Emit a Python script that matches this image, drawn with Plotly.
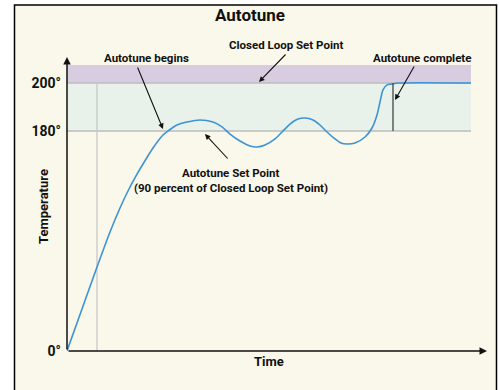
import plotly.graph_objects as go

# time units along the x axis, temperatures in degrees
TIME = [0, 15, 30, 43, 53, 61, 69, 76, 86, 96, 101, 110, 120, 133, 146, 155, 163,
        173, 183, 190, 198, 208, 215, 223, 231, 238, 246, 253, 260, 268, 274, 280,
        288, 298, 305, 310, 313, 316, 320, 325, 333, 404]
TEMP = [0, 34.4, 68.7, 97.4, 117.0, 130.9, 143.2, 153.0, 166.1, 176.7, 180.0, 182.5,
        183.75, 184.6, 183.75, 181.7, 177.5, 171.8, 167.7, 166.9, 168.5, 173.5, 179.2,
        182.9, 185.0, 185.4, 184.6, 182.5, 179.2, 173.5, 170.2, 169.4, 170.2, 175.1,
        181.25, 186.7, 192.1, 197.1, 199.2, 199.6, 200, 200]

TICK_TEMPS = [0, 180, 200]
TICK_TEXT = ["0°", "180°", "200°"]
SET_POINT = 200
AUTOTUNE_SET_POINT = 180
BAND_TOP = 207.5
AUTOTUNE_START = 30
AUTOTUNE_END = 326
BAND_END = 404

FONT = "Roboto, Liberation Sans, sans-serif"
CREAM = "#faf8ea"
GREEN = "#e9f2ea"
PURPLE = "#d8cde0"
GRID = "#bdbdbd"
BLUE = "#3d93d5"


def scale(t):
    # broken axis: 0-180 compressed, 180-200 expanded
    if t <= 180:
        return t * 220 / 180
    return 220 + (t - 180) * 48 / 20


Y = [scale(t) for t in TEMP]

fig = go.Figure()
fig.add_trace(go.Scatter(x=TIME, y=Y, mode="lines", line=dict(color=BLUE, width=1.6, shape="spline", smoothing=0.7),
                         hoverinfo="skip", showlegend=False))

shapes = [
    # frame
    dict(type="rect", xref="paper", yref="paper", x0=-0.125, x1=1.0226, y0=-0.2, y1=1.177,
         fillcolor=CREAM, line=dict(color="black", width=1.5), layer="below"),
    dict(type="rect", x0=0, x1=BAND_END, y0=scale(SET_POINT), y1=scale(BAND_TOP),
         fillcolor=PURPLE, line_width=0, layer="below"),
    dict(type="rect", x0=0, x1=BAND_END, y0=scale(AUTOTUNE_SET_POINT), y1=scale(SET_POINT),
         fillcolor=GREEN, line_width=0, layer="below"),
    dict(type="line", x0=-9, x1=BAND_END, y0=scale(SET_POINT), y1=scale(SET_POINT),
         line=dict(color=GRID, width=1.5), layer="below"),
    dict(type="line", x0=-9, x1=BAND_END, y0=scale(AUTOTUNE_SET_POINT), y1=scale(AUTOTUNE_SET_POINT),
         line=dict(color=GRID, width=1.5), layer="below"),
    dict(type="line", x0=AUTOTUNE_START, x1=AUTOTUNE_START, y0=0, y1=scale(SET_POINT),
         line=dict(color="#c4c4c4", width=1.2), layer="below"),
    dict(type="line", x0=AUTOTUNE_END, x1=AUTOTUNE_END, y0=scale(AUTOTUNE_SET_POINT), y1=scale(SET_POINT),
         line=dict(color="#444444", width=1.3)),
]


def label(text, x, y, size=11.5, xref="x", yref="y", **kw):
    return dict(text=f"<b>{text}</b>", x=x, y=y, xref=xref, yref=yref, showarrow=False,
                xanchor="center", yanchor="middle",
                font=dict(family=FONT, size=size, color="#111111"), **kw)


def arrow(x, y, ax, ay, head=2, width=1.1):
    return dict(text="", x=x, y=y, ax=ax, ay=ay, axref="x", ayref="y",
                showarrow=True, arrowhead=head, arrowsize=1, arrowwidth=width, arrowcolor="#111111")


annotations = [
    label("Autotune", 183, 336 / 294, size=17, yref="paper"),
    label("Closed Loop Set Point", 219, 306 / 294, yref="paper"),
    label("Autotune begins", 79, 293),
    label("Autotune complete", 355, 293),
    label("Autotune Set Point", 164, 178),
    label("(90 percent of Closed Loop Set Point)", 164, 163),
    label("Temperature", -24 / 420, 144, size=13, xref="paper", textangle=-90),
    label("Time", 202, -10 / 294, size=13, yref="paper"),
    arrow(192, scale(SET_POINT) + 1, 220, 298),
    arrow(96, 222, 70, 285),
    arrow(328, 251, 348, 286),
    arrow(138, 217, 162, 191),
    # axes with arrowheads
    arrow(0, 294, 0, 0, head=2, width=1.5),
    arrow(420, 0, 0, 0, head=2, width=1.5),
]

fig.update_layout(
    width=499, height=390,
    margin=dict(l=67, r=12, t=57, b=39),
    paper_bgcolor="white",
    plot_bgcolor="rgba(0,0,0,0)",
    shapes=shapes,
    annotations=annotations,
    showlegend=False,
    xaxis=dict(range=[0, 420], showgrid=False, zeroline=False, showticklabels=False, showline=False),
    yaxis=dict(range=[0, 294], showgrid=False, zeroline=False, showline=False,
               tickvals=[scale(t) for t in TICK_TEMPS], ticktext=[f"<b>{t}</b>" for t in TICK_TEXT],
               tickfont=dict(family=FONT, size=14, color="#111111"), ticks="", ticklabelstandoff=5),
)

fig.write_html("out.html", config={"displayModeBar": False},
               post_script="document.body.style.margin='0';")
